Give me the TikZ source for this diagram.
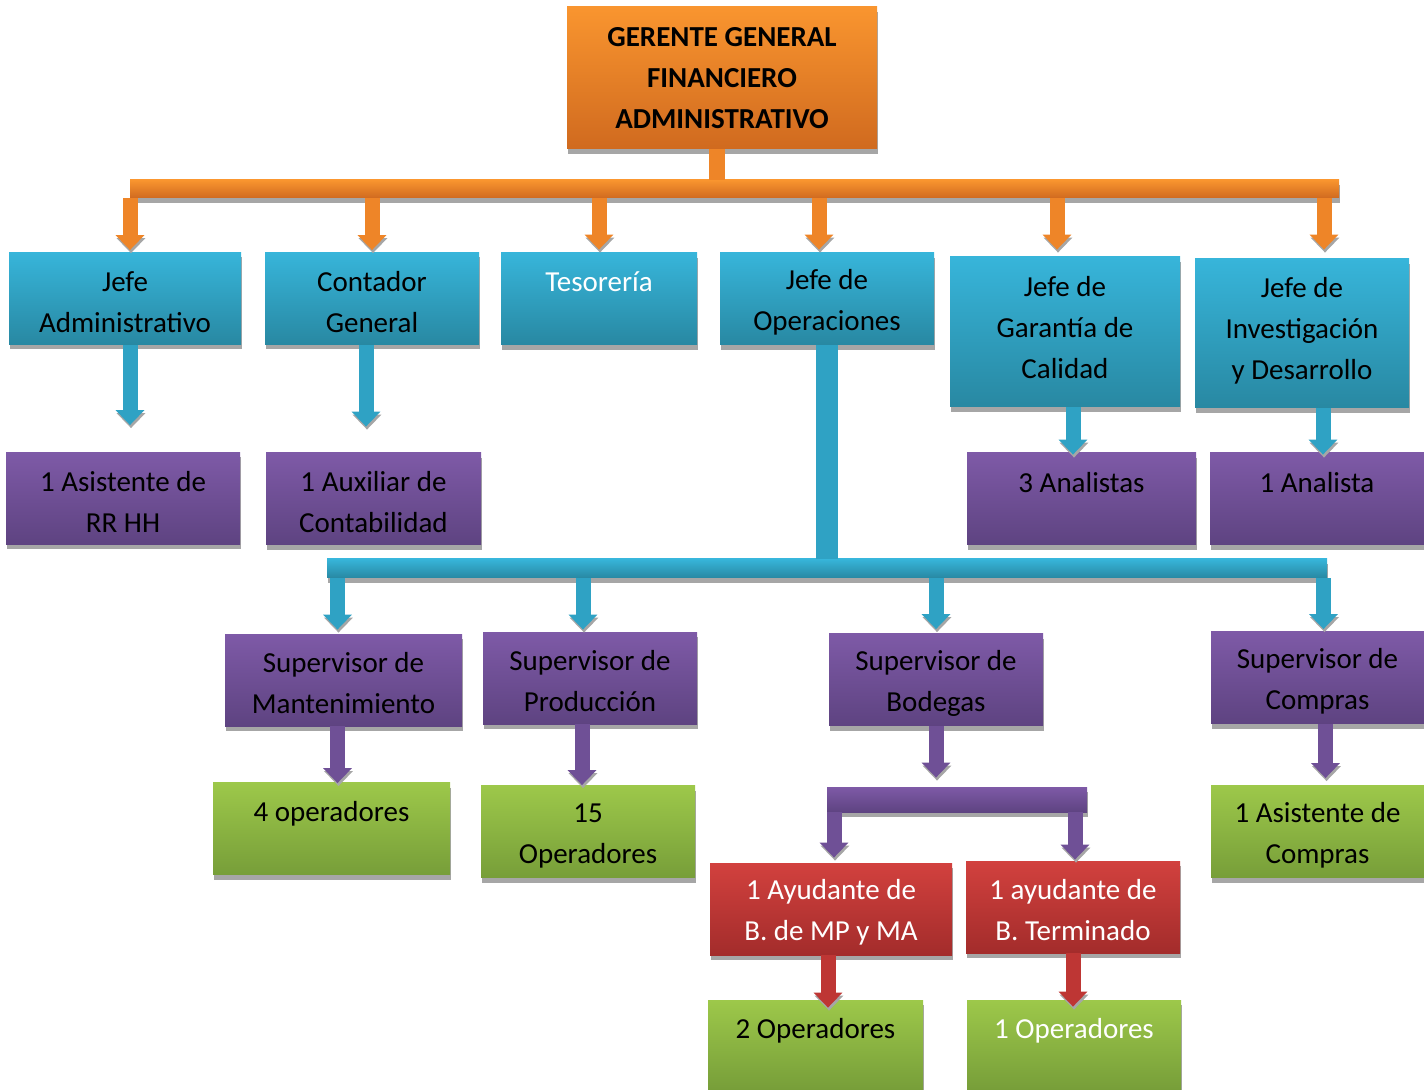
\documentclass[tikz,border=0pt]{standalone}
\usepackage{fontspec}
\setmainfont{Carlito}
\usepackage{tikz}
\usetikzlibrary{arrows.meta, positioning, shadows}
\definecolor{orangetop}{HTML}{F9952F}
\definecolor{orangebot}{HTML}{D06A1F}
\definecolor{orangearrow}{HTML}{EE8528}
\definecolor{bluetop}{HTML}{37B5DA}
\definecolor{bluebot}{HTML}{2888A2}
\definecolor{bluearrow}{HTML}{2FA2C4}
\definecolor{purpletop}{HTML}{7E5AA7}
\definecolor{purplebot}{HTML}{5E4381}
\definecolor{purplearrow}{HTML}{6F5096}
\definecolor{greentop}{HTML}{9DC84A}
\definecolor{greenbot}{HTML}{779E39}
\definecolor{redtop}{HTML}{D2413E}
\definecolor{redbot}{HTML}{A32C2B}
\definecolor{redarrow}{HTML}{BE3634}
\definecolor{shadowgray}{HTML}{A6A6A6}

\begin{document}
\begin{tikzpicture}[x=0.5pt, y=-0.5pt, every node/.style={align=center},
    boxshadow/.style={drop shadow={shadow xshift=0.5pt, shadow yshift=-2.5pt, fill=shadowgray, opacity=1}},
    bar/.style={inner sep=0pt, boxshadow},
    link/.style={line width=7.5pt, draw=#1, -{Triangle[width=14pt, length=7.5pt]},
        preaction={draw=shadowgray, -{Triangle[width=14pt, length=7.5pt]}, transform canvas={shift={(0.5pt,-1.5pt)}}}}]
        \def\boxfont{\fontsize{14.5pt}{20.5pt}\selectfont}
        \def\tg{\rule{0pt}{13.5pt}}
        \def\lowgap{\rule[-8pt]{0pt}{8pt}}
        \def\rowh{46pt}
        \useasboundingbox (0,0) rectangle (1424,1090);
        % gerencia
        \begin{scope}[every node/.style={align=center, inner sep=0pt, font=\boxfont\bfseries, boxshadow, top color=orangetop, bottom color=orangebot}]
            \node[minimum width=155pt, minimum height=71pt] (ger) at (722,78) {GERENTE GENERAL\\FINANCIERO\\ADMINISTRATIVO};
        \end{scope}
        % jefaturas
        \begin{scope}[every node/.style={align=center, inner sep=0pt, font=\boxfont, boxshadow, top color=bluetop, bottom color=bluebot, minimum height=\rowh}]
            \node[minimum width=116pt] (jadm) at (125,298.5) {\tg Jefe\\Administrativo};
            \node[minimum width=107pt] (cont) at (372,298.5) {\tg Contador\\General};
            \node[minimum width=98pt, text=white] (tes) at (599,299) {\tg Tesorería\\\mbox{}};
            \node[minimum width=107pt] (jop) at (827,299) {\tg Jefe de\\Operaciones};
            \node[minimum width=115pt, minimum height=75pt] (jgar) at (1065,332) {\tg Jefe de\\Garantía de\\Calidad\lowgap};
            \node[minimum width=107pt, minimum height=74.5pt] (jinv) at (1302,333.5) {\tg Jefe de\\Investigación\\y Desarrollo\lowgap};
        \end{scope}
        % asistentes y supervisores
        \begin{scope}[every node/.style={align=center, inner sep=0pt, font=\boxfont, boxshadow, top color=purpletop, bottom color=purplebot, minimum height=\rowh}]
            \node[minimum width=117pt] (asis) at (123,498.5) {\tg 1 Asistente de\\RR HH};
            \node[minimum width=107.5pt] (aux) at (373.5,499) {\tg 1 Auxiliar de\\Contabilidad};
            \node[minimum width=114.5pt] (ana3) at (1081.5,499) {\tg 3 Analistas\\\mbox{}};
            \node[minimum width=107pt] (ana1) at (1317,499) {\tg 1 Analista\\\mbox{}};
            \node[minimum width=118.5pt] (smant) at (343.5,680) {\tg Supervisor de\\Mantenimiento};
            \node[minimum width=107pt] (sprod) at (590,678) {\tg Supervisor de\\Producción};
            \node[minimum width=107pt] (sbod) at (936,679.5) {\tg Supervisor de\\Bodegas};
            \node[minimum width=106.5pt] (scomp) at (1317.5,677.5) {\tg Supervisor de\\Compras};
        \end{scope}
        % ayudantes de bodega
        \begin{scope}[every node/.style={align=center, inner sep=0pt, font=\boxfont, text=white, boxshadow, top color=redtop, bottom color=redbot, minimum height=\rowh}]
            \node[minimum width=121pt] (ayu1) at (831,909) {\tg 1 Ayudante de\\B. de MP y MA};
            \node[minimum width=107pt] (ayu2) at (1073,907) {\tg 1 ayudante de\\B. Terminado};
        \end{scope}
        % operadores
        \begin{scope}[every node/.style={align=center, inner sep=0pt, font=\boxfont, boxshadow, top color=greentop, bottom color=greenbot, minimum height=\rowh}]
            \node[minimum width=118.5pt] (op4) at (331.5,828.5) {\tg 4 operadores\\\mbox{}};
            \node[minimum width=107pt] (op15) at (588,831.5) {\tg 15\\Operadores};
            \node[minimum width=106.5pt] (acomp) at (1317.5,831.5) {\tg 1 Asistente de\\Compras};
            \node[minimum width=107.5pt, minimum height=45pt] (op2) at (815.5,1045) {\tg 2 Operadores\\\mbox{}};
            \node[minimum width=107pt, minimum height=45pt, text=white] (op1) at (1074,1045) {\tg 1 Operadores\\\mbox{}};
        \end{scope}
        % barras
        \node[bar, top color=orangetop, bottom color=orangebot, minimum width=604.5pt, minimum height=9pt] (obar) at (734.5,189) {};
        \node[bar, top color=bluetop, bottom color=bluebot, minimum width=500pt, minimum height=9.5pt] (bbar) at (827,568.5) {};
        \node[bar, top color=purpletop, bottom color=purplebot, minimum width=130pt, minimum height=12.5pt] (pbar) at (957,799.5) {};
        % lineas de mando
        \draw[line width=8pt, draw=orangearrow] ([xshift=-2.5pt]ger.south) -- ([xshift=-2.5pt]ger.south |- obar.north);
        \draw[link=orangearrow, shorten >=1pt] ([xshift=2.5pt]obar.south -| jadm.north) -- ([xshift=2.5pt]jadm.north);
        \draw[link=orangearrow, shorten >=1pt] (obar.south -| cont.north) -- (cont.north);
        \draw[link=orangearrow, shorten >=1.5pt] (obar.south -| tes.north) -- (tes.north);
        \draw[link=orangearrow, shorten >=1.5pt] ([xshift=-4pt]obar.south -| jop.north) -- ([xshift=-4pt]jop.north);
        \draw[link=orangearrow, shorten >=3.5pt] ([xshift=-4pt]obar.south -| jgar.north) -- ([xshift=-4pt]jgar.north);
        \draw[link=orangearrow, shorten >=4.5pt] ([xshift=11pt]obar.south -| jinv.north) -- ([xshift=11pt]jinv.north);
        \draw[link=bluearrow, shorten >=13.5pt] ([xshift=2.5pt]jadm.south) -- ([xshift=2.5pt]jadm.south |- asis.north);
        \draw[link=bluearrow, shorten >=13pt] ([xshift=-3pt]cont.south) -- ([xshift=-3pt]cont.south |- aux.north);
        \draw[link=bluearrow, shorten >=-1pt] ([xshift=4pt]jgar.south) -- ([xshift=4pt]jgar.south |- ana3.north);
        \draw[link=bluearrow, shorten >=-1pt] ([xshift=3pt]ana1.north |- jinv.south) -- ([xshift=3pt]ana1.north);
        \draw[line width=11pt, draw=bluearrow] (jop.south) -- (jop.south |- bbar.north);
        \draw[link=bluearrow, shorten >=2pt] ([xshift=-3pt]bbar.south -| smant.north) -- ([xshift=-3pt]smant.north);
        \draw[link=bluearrow, shorten >=1pt] ([xshift=-3.5pt]bbar.south -| sprod.north) -- ([xshift=-3.5pt]sprod.north);
        \draw[link=bluearrow, shorten >=2pt] (bbar.south -| sbod.north) -- (sbod.north);
        \draw[link=bluearrow, shorten >=1pt] ([xshift=3pt]bbar.south -| scomp.north) -- ([xshift=3pt]scomp.north);
        \draw[link=purplearrow, shorten >=-0.5pt] ([xshift=-3pt]smant.south) -- ([xshift=-3pt]smant.south |- op4.north);
        \draw[link=purplearrow, shorten >=0pt] ([xshift=-4pt]sprod.south) -- ([xshift=-4pt]sprod.south |- op15.north);
        \draw[link=purplearrow, shorten >=4.5pt] (sbod.south) -- (sbod.south |- pbar.north);
        \draw[link=purplearrow, shorten >=3.5pt] ([xshift=4pt]scomp.south) -- ([xshift=4pt]scomp.south |- acomp.north);
        \draw[link=purplearrow, shorten >=2.5pt] ([xshift=1.5pt]pbar.south -| ayu1.north) -- ([xshift=1.5pt]ayu1.north);
        \draw[link=purplearrow, shorten >=0.5pt] ([xshift=1pt]pbar.south -| ayu2.north) -- ([xshift=1pt]ayu2.north);
        \draw[link=redarrow, shorten >=-4pt] ([xshift=-1.5pt]ayu1.south) -- ([xshift=-1.5pt]ayu1.south |- op2.north);
        \draw[link=redarrow, shorten >=-3.5pt] (ayu2.south) -- (ayu2.south |- op1.north);
    \end{tikzpicture}
\end{document}
